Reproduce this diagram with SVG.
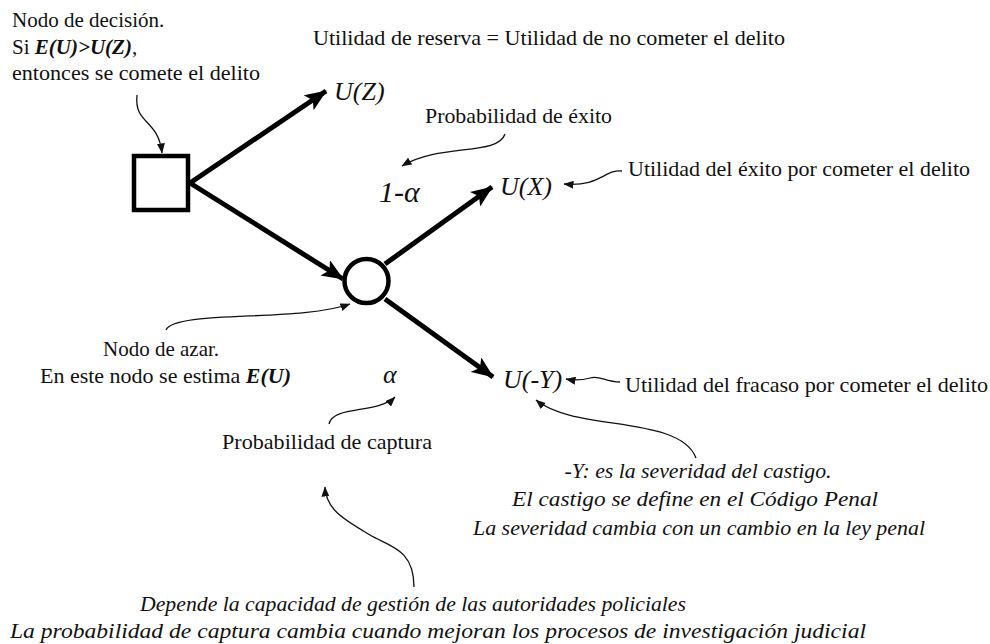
<svg xmlns="http://www.w3.org/2000/svg" width="990" height="644" viewBox="0 0 990 644" font-family="'Liberation Serif', 'DejaVu Serif', serif">
<style>
text{font-family:'Liberation Serif','DejaVu Serif',serif}
.t{font-size:21px;fill:#111}
.i{font-style:italic}
.m{font-style:italic;font-size:26px;fill:#111}
.b{font-weight:bold;font-style:italic}
.thick{stroke:#000;stroke-width:5;fill:none}
.thin{stroke:#111;stroke-width:1.3;fill:none}
</style>
<defs>
<marker id="big" markerUnits="userSpaceOnUse" viewBox="0 0 22 18" refX="21" refY="9" markerWidth="22" markerHeight="18" orient="auto">
<path d="M0,0 L22,9 L0,18 L5,9 z" fill="#000"/>
</marker>
<marker id="small" markerUnits="userSpaceOnUse" viewBox="0 0 10 8" refX="9.5" refY="4" markerWidth="10" markerHeight="8" orient="auto">
<path d="M0,0 L10,4 L0,8 z" fill="#111"/>
</marker>
</defs>
<g id="connectors">
<line class="thick" x1="190" y1="183" x2="326" y2="91" marker-end="url(#big)"/>
<line class="thick" x1="190" y1="183" x2="343" y2="279" marker-end="url(#big)"/>
<line class="thick" x1="385" y1="264" x2="492" y2="187" marker-end="url(#big)"/>
<line class="thick" x1="385" y1="299" x2="493" y2="377" marker-end="url(#big)"/>
<path class="thin" d="M137,95 C134,125 158,118 162,153" marker-end="url(#small)"/>
<path class="thin" d="M505,134 C498,156 440,143 402,166" marker-end="url(#small)"/>
<path class="thin" d="M622,171 C605,169 600,187 564,184" marker-end="url(#small)"/>
<path class="thin" d="M166,330 C175,310 300,322 350,304" marker-end="url(#small)"/>
<path class="thin" d="M329,424 C333,405 378,414 395,397" marker-end="url(#small)"/>
<path class="thin" d="M620,382 C605,382 600,375 590,378 C583,380 577,381 566,379" marker-end="url(#small)"/>
<path class="thin" d="M696,458 C680,415 575,432 536,400" marker-end="url(#small)"/>
<path class="thin" d="M414,587 C414,548 388,546 370,535 C345,520 326,510 325,487" marker-end="url(#small)"/>
</g>
<g id="decision-node">
<rect x="134" y="156" width="54" height="54" fill="#fff" stroke="#000" stroke-width="4.5"/>
</g>
<g id="chance-node">
<circle cx="366.5" cy="281" r="22" fill="#fff" stroke="#000" stroke-width="4.5"/>
</g>
<g id="decision-label">
<text class="t" x="12" y="27">Nodo de decisión.</text>
<text class="t" x="12" y="54">Si <tspan class="b">E(U)&gt;U(Z)</tspan>,</text>
<text class="t" x="12" y="80" textLength="248" lengthAdjust="spacingAndGlyphs">entonces se comete el delito</text>
</g>
<g id="reserve-label">
<text class="t" x="313" y="45" textLength="472" lengthAdjust="spacingAndGlyphs">Utilidad de reserva = Utilidad de no cometer el delito</text>
</g>
<g id="uz"><text class="m" x="334" y="100">U(Z)</text></g>
<g id="prob-exito"><text class="t" x="425" y="123" textLength="187" lengthAdjust="spacingAndGlyphs">Probabilidad de éxito</text></g>
<g id="one-minus-alpha"><text class="m" x="379" y="202" style="font-size:30px">1-α</text></g>
<g id="ux"><text class="m" x="500" y="195">U(X)</text></g>
<g id="ux-label"><text class="t" x="628" y="176" textLength="342" lengthAdjust="spacingAndGlyphs">Utilidad del éxito por cometer el delito</text></g>
<g id="chance-label">
<text class="t" x="103" y="356">Nodo de azar.</text>
<text class="t" x="40" y="383" textLength="251" lengthAdjust="spacingAndGlyphs">En este nodo se estima <tspan class="b">E(U)</tspan></text>
</g>
<g id="alpha"><text class="m" x="383" y="383">α</text></g>
<g id="uy"><text class="m" x="503" y="388">U(-Y)</text></g>
<g id="uy-label"><text class="t" x="625" y="392" textLength="363" lengthAdjust="spacingAndGlyphs">Utilidad del fracaso por cometer el delito</text></g>
<g id="captura-label"><text class="t" x="222" y="449" textLength="210" lengthAdjust="spacingAndGlyphs">Probabilidad de captura</text></g>
<g id="severity-note">
<text class="t i" x="698" y="478" text-anchor="middle" textLength="267" lengthAdjust="spacingAndGlyphs">-Y: es la severidad del castigo.</text>
<text class="t i" x="695" y="506" text-anchor="middle" textLength="366" lengthAdjust="spacingAndGlyphs">El castigo se define en el Código Penal</text>
<text class="t i" x="699" y="535" text-anchor="middle" textLength="452" lengthAdjust="spacingAndGlyphs">La severidad cambia con un cambio en la ley penal</text>
</g>
<g id="capture-note">
<text class="t i" x="413" y="611" text-anchor="middle" textLength="546" lengthAdjust="spacingAndGlyphs">Depende la capacidad de gestión de las autoridades policiales</text>
<text class="t i" x="438" y="638" text-anchor="middle" textLength="856" lengthAdjust="spacingAndGlyphs">La probabilidad de captura cambia cuando mejoran los procesos de investigación judicial</text>
</g>
</svg>
